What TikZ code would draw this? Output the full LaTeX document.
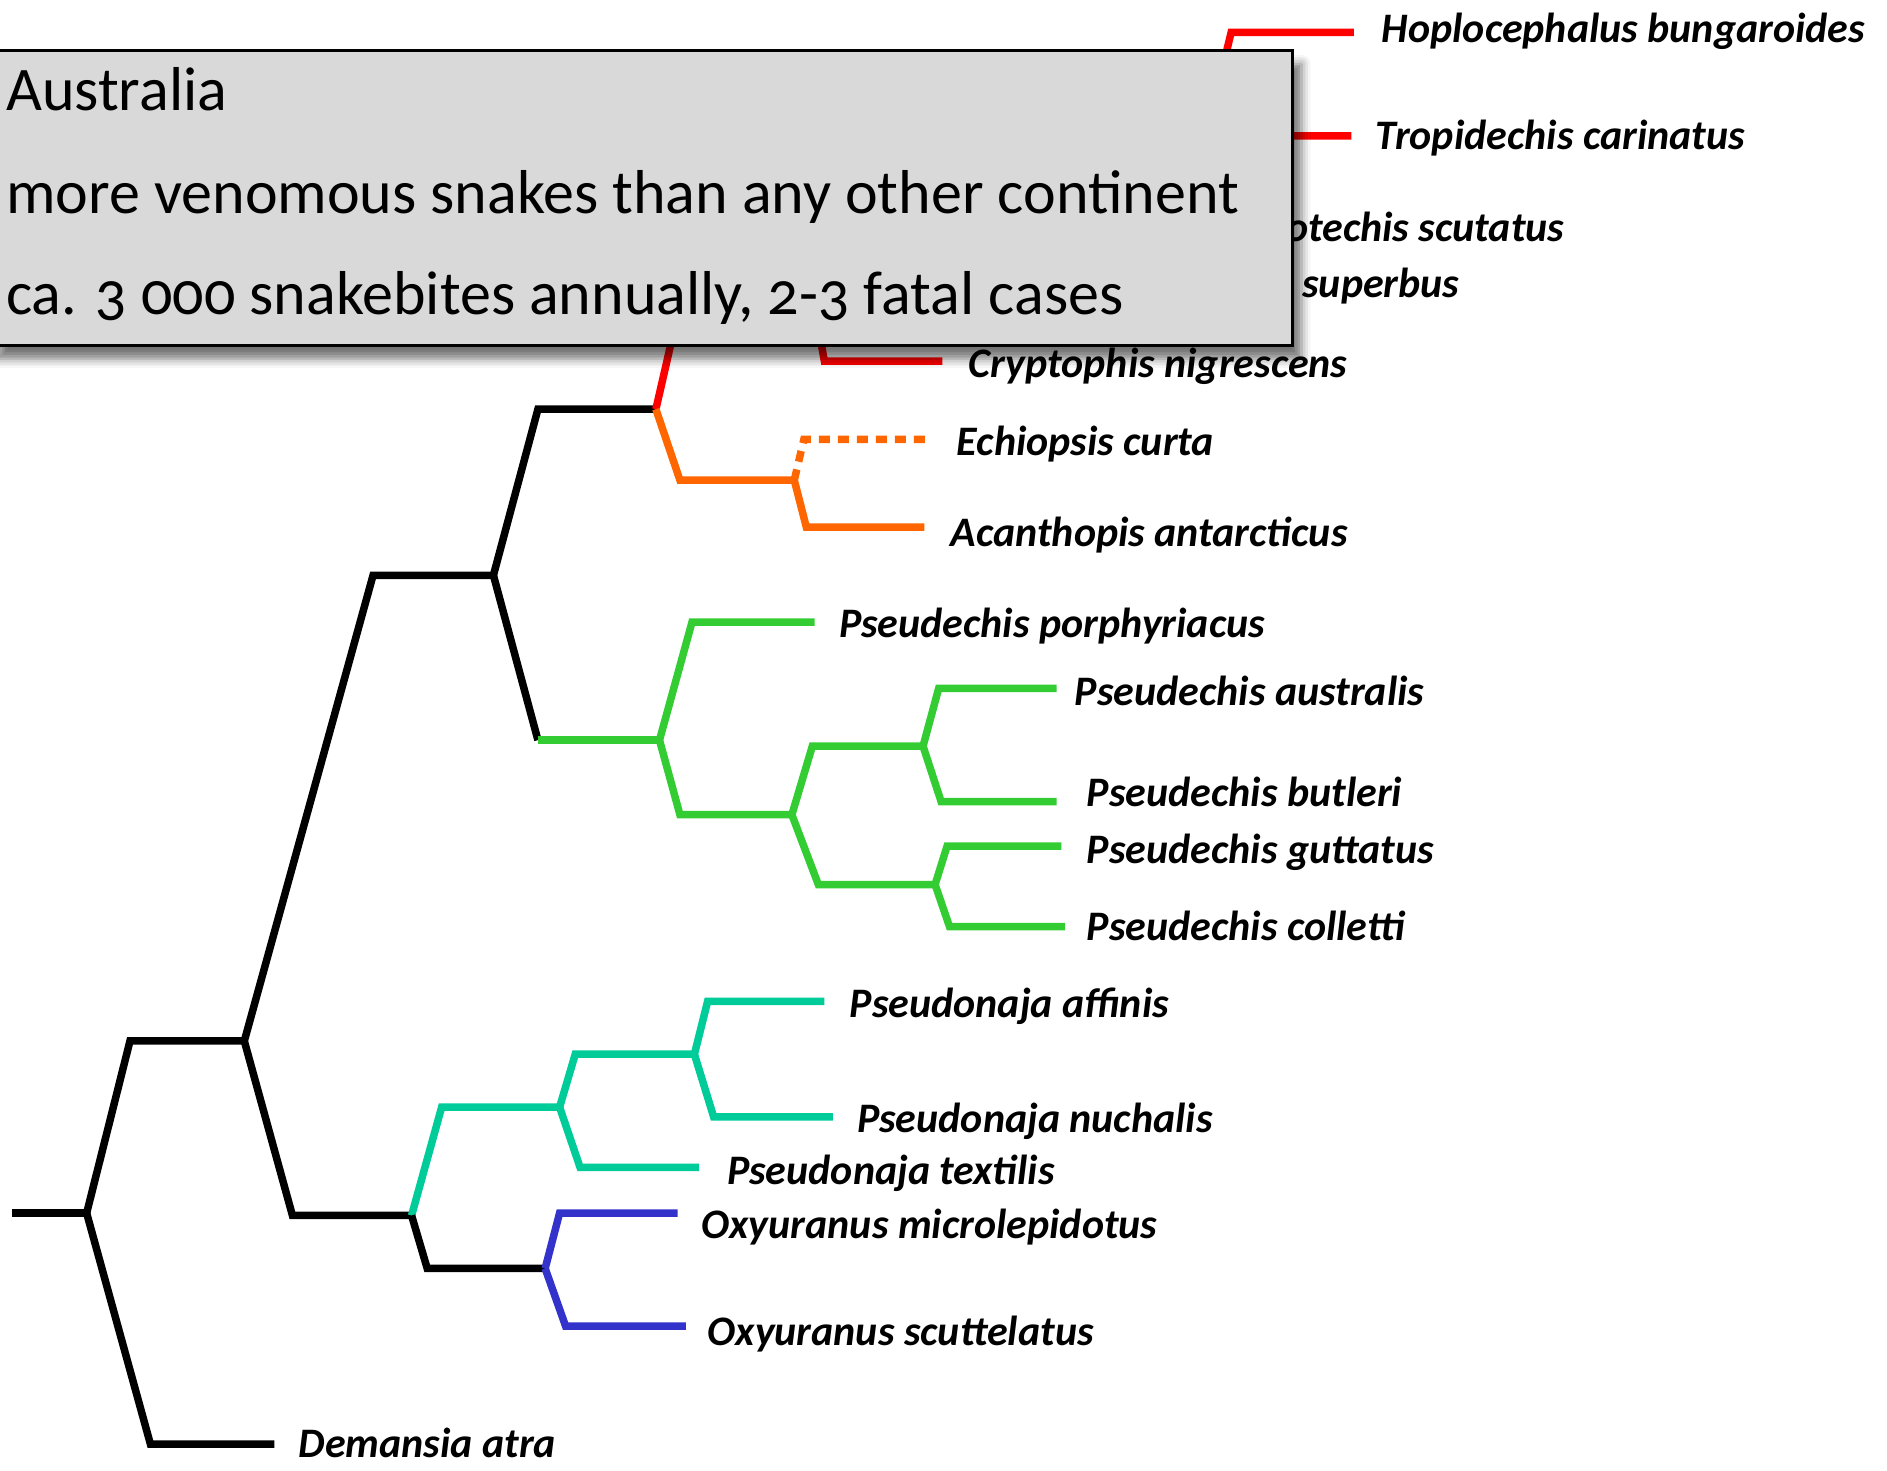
\documentclass[tikz,border=0pt]{standalone}
\usepackage{fontspec}
\setmainfont{Carlito}[Numbers=OldStyle]
\usetikzlibrary{shadows.blur}
\definecolor{cred}{HTML}{FF0000}
\definecolor{corange}{HTML}{FF6600}
\definecolor{cgreen}{HTML}{33CC33}
\definecolor{cteal}{HTML}{00CC99}
\definecolor{cblue}{HTML}{3333CC}
\definecolor{boxgray}{HTML}{D9D9D9}
\begin{document}
\begin{tikzpicture}[x=1.2034pt,y=-1.2034pt,
  br/.style={line width=7.5pt, line join=miter},
  dotbr/.style={line width=7.5pt, dash pattern=on 11pt off 8pt},
  lab/.style={anchor=west, inner sep=0pt, text height=28pt, text depth=8pt,
    font=\fontsize{42}{46}\selectfont\bfseries\itshape},
  boxtext/.style={anchor=base west, inner sep=0pt, font=\fontsize{62}{68}\selectfont}]
\useasboundingbox (0,0) rectangle (1568,1222);
% ---- tree coordinates
\coordinate (root) at (10,1008);
\coordinate (A) at (72,1008);
\coordinate (Au) at (108,865);
\coordinate (B) at (203,865);
\coordinate (Ad) at (125,1200);
\coordinate (tDem) at (228,1200);
\coordinate (Bu) at (310,478);
\coordinate (C) at (410,478);
\coordinate (Bd) at (243,1010);
\coordinate (D) at (342,1010);
\coordinate (Cu) at (447,340);
\coordinate (E) at (545,340);
\coordinate (Cd) at (447,615);
\coordinate (G) at (548,615);
% red clade
\coordinate (Eu) at (576,205);
\coordinate (R1) at (668,205);
\coordinate (R1d) at (685,300);
\coordinate (tCry) at (783,300);
\coordinate (R1u) at (690,140);
\coordinate (R2) at (800,140);
\coordinate (R2u) at (815,68);
\coordinate (R3) at (1013,68);
\coordinate (R3u) at (1023,27);
\coordinate (tHop) at (1125,27);
\coordinate (R3d) at (1028,113);
\coordinate (tTro) at (1123,113);
\coordinate (R2d) at (815,212);
\coordinate (R4) at (905,212);
\coordinate (R4u) at (912,189);
\coordinate (tNot) at (1030,189);
\coordinate (R4d) at (918,236);
\coordinate (tAus) at (1030,236);
% orange clade
\coordinate (Ed) at (565,399);
\coordinate (O) at (660,399);
\coordinate (Ou) at (668,365);
\coordinate (tEch) at (772,365);
\coordinate (Od) at (670,438);
\coordinate (tAca) at (768,438);
% green clade
\coordinate (Gu) at (575,517);
\coordinate (tPpo) at (677,517);
\coordinate (Gd) at (565,677);
\coordinate (H) at (658,677);
\coordinate (Hu) at (675,620);
\coordinate (I) at (767,620);
\coordinate (Iu) at (780,572);
\coordinate (tPau) at (878,572);
\coordinate (Id) at (782,666);
\coordinate (tPbu) at (878,666);
\coordinate (Hd) at (680,735);
\coordinate (J) at (777,735);
\coordinate (Ju) at (787,703);
\coordinate (tPgu) at (882,703);
\coordinate (Jd) at (789,770);
\coordinate (tPco) at (885,770);
% teal clade
\coordinate (Du) at (367,920);
\coordinate (K) at (465,920);
\coordinate (Ku) at (478,876);
\coordinate (M) at (577,876);
\coordinate (Mu) at (588,832);
\coordinate (tPaf) at (685,832);
\coordinate (Md) at (593,928);
\coordinate (tPnu) at (692,928);
\coordinate (Kd) at (482,970);
\coordinate (tPte) at (581,970);
% Oxyuranus
\coordinate (Dd) at (355,1054);
\coordinate (L) at (453,1054);
\coordinate (Lu) at (465,1008);
\coordinate (tOmi) at (563,1008);
\coordinate (Ld) at (470,1102);
\coordinate (tOsc) at (570,1102);
% ---- branches
\draw[br] (root) -- (A);
\draw[br] (A) -- (Au) -- (B);
\draw[br] (A) -- (Ad) -- (tDem);
\draw[br] (B) -- (Bu) -- (C);
\draw[br] (B) -- (Bd) -- (D);
\draw[br] (C) -- (Cu) -- (E);
\draw[br] (C) -- (Cd);
\draw[br,cgreen] (Cd) -- (G);
% red
\draw[br,cred] (E) -- (Eu) -- (R1);
\draw[br,cred] (R1) -- (R1d) -- (tCry);
\draw[br,cred] (R1) -- (R1u) -- (R2);
\draw[br,cred] (R2) -- (R2u) -- (R3);
\draw[br,cred] (R3) -- (R3u) -- (tHop);
\draw[br,cred] (R3) -- (R3d) -- (tTro);
\draw[br,cred] (R2) -- (R2d) -- (R4);
\draw[br,cred] (R4) -- (R4u) -- (tNot);
\draw[br,cred] (R4) -- (R4d) -- (tAus);
% orange
\draw[br,corange] (E) -- (Ed) -- (O);
\draw[dotbr,corange] (O) -- (Ou) -- (tEch);
\draw[br,corange] (O) -- (Od) -- (tAca);
% green
\draw[br,cgreen] (G) -- (Gu) -- (tPpo);
\draw[br,cgreen] (G) -- (Gd) -- (H);
\draw[br,cgreen] (H) -- (Hu) -- (I);
\draw[br,cgreen] (I) -- (Iu) -- (tPau);
\draw[br,cgreen] (I) -- (Id) -- (tPbu);
\draw[br,cgreen] (H) -- (Hd) -- (J);
\draw[br,cgreen] (J) -- (Ju) -- (tPgu);
\draw[br,cgreen] (J) -- (Jd) -- (tPco);
% teal
\draw[br,cteal] (D) -- (Du) -- (K);
\draw[br,cteal] (K) -- (Ku) -- (M);
\draw[br,cteal] (M) -- (Mu) -- (tPaf);
\draw[br,cteal] (M) -- (Md) -- (tPnu);
\draw[br,cteal] (K) -- (Kd) -- (tPte);
% black + blue
\draw[br] (D) -- (Dd) -- (L);
\draw[br,cblue] (L) -- (Lu) -- (tOmi);
\draw[br,cblue] (L) -- (Ld) -- (tOsc);
% ---- labels
\node[lab] (lHop) at (1148,27) {Hoplocephalus bungaroides};
\node[lab] (lTro) at (1143,116) {Tropidechis carinatus};
\node[lab,anchor=east] (lNot) at (1300,192) {Notechis scutatus};
\node[lab,anchor=east] (lAus) at (1213,239) {Austrelaps superbus};
\node[lab] (lCry) at (805,305) {Cryptophis nigrescens};
\node[lab] (lEch) at (795,370) {Echiopsis curta};
\node[lab] (lAca) at (790,446) {Acanthopis antarcticus};
\node[lab] (lPpo) at (697,521) {Pseudechis porphyriacus};
\node[lab] (lPau) at (893,578) {Pseudechis australis};
\node[lab] (lPbu) at (903,662) {Pseudechis butleri};
\node[lab] (lPgu) at (903,709) {Pseudechis guttatus};
\node[lab] (lPco) at (903,773) {Pseudechis colletti};
\node[lab] (lPaf) at (706,837) {Pseudonaja affinis};
\node[lab] (lPnu) at (712,933) {Pseudonaja nuchalis};
\node[lab] (lPte) at (604,976) {Pseudonaja textilis};
\node[lab] (lOmi) at (583,1021) {Oxyuranus microlepidotus};
\node[lab] (lOsc) at (588,1110) {Oxyuranus scuttelatus};
\node[lab] (lDem) at (248,1203) {Demansia atra};
% ---- info box
\node[draw=black, line width=3pt, fill=boxgray, anchor=north west,
  minimum width=1303pt, minimum height=295pt, inner sep=0pt,
  blur shadow={shadow xshift=9pt, shadow yshift=-13pt, shadow blur radius=9pt, shadow opacity=55}]
  (box) at (-10,41) {};
\node[boxtext] (t1) at (5,92) {Australia};
\node[boxtext] (t2) at (5,177) {more venomous snakes than any other continent};
\node[boxtext] (t3) at (5,261) {ca. 3 000 snakebites annually, 2-3 fatal cases};
\end{tikzpicture}
\end{document}
